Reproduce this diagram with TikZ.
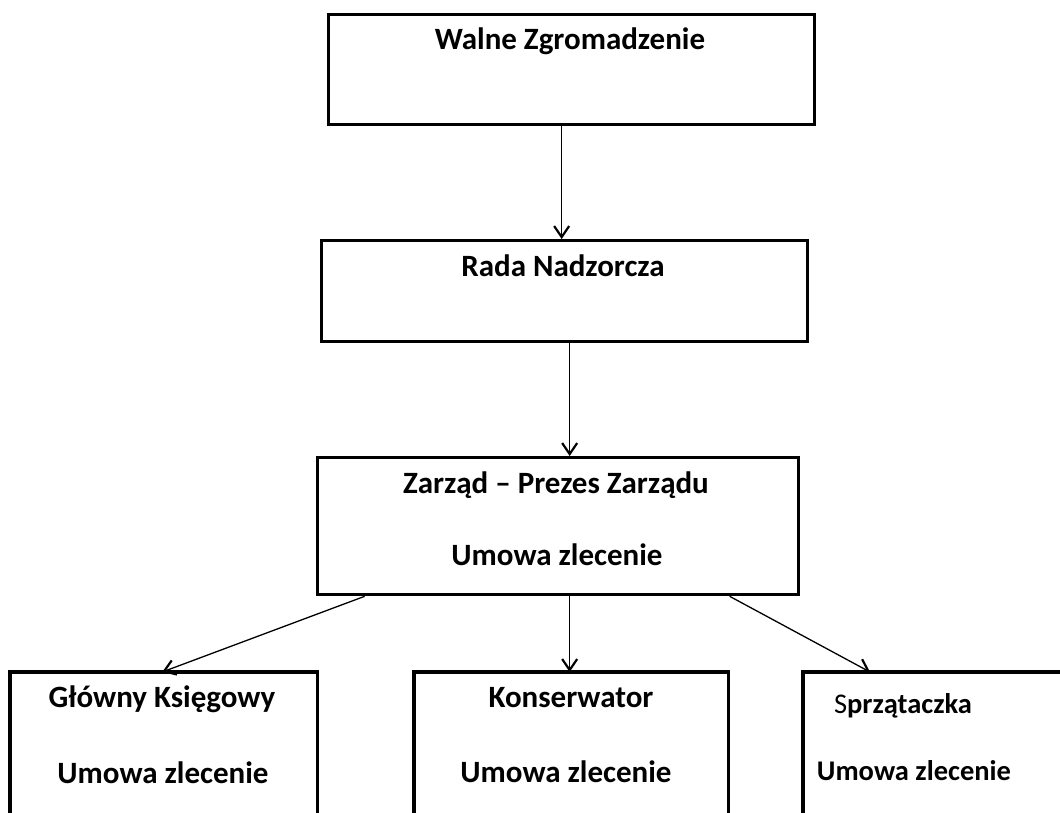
\documentclass[tikz,border=0pt]{standalone}
\usepackage{fontspec}
\setmainfont{Carlito}
\usetikzlibrary{arrows.meta,calc}
\tikzset{
  orgbox/.style={draw, line width=3.3pt, rectangle, inner sep=0pt, anchor=north west},
  openbox/.style={rectangle, inner sep=0pt, anchor=north west},
  boxline/.style={line width=3.3pt},
  lbl/.style={anchor=base, inner sep=0pt, font=\fontsize{31}{37}\selectfont\bfseries},
  lblsmall/.style={anchor=base, inner sep=0pt, font=\fontsize{28.5}{34}\selectfont\bfseries},
  conn/.style={line width=1.3pt, -{Straight Barb[length=11pt,width=15pt,line width=2.2pt]}}
}
\begin{document}
\begin{tikzpicture}[x=1pt,y=-1pt]
\useasboundingbox (0,0) rectangle (1060,812);
% boxes
\node[orgbox, minimum width=486pt, minimum height=110pt] (w) at (327,13) {};
\node[orgbox, minimum width=486pt, minimum height=101pt] (r) at (320,239) {};
\node[orgbox, minimum width=481pt, minimum height=137pt] (z) at (316,456) {};
\node[openbox, minimum width=307pt, minimum height=145pt] (g) at (10,672) {};
\node[openbox, minimum width=314pt, minimum height=145pt] (k) at (414,672) {};
\node[openbox, minimum width=262pt, minimum height=145pt] (s) at (803,672) {};
\draw[boxline] (g.south west) -- (g.north west) -- (g.north east) -- (g.south east);
\draw[boxline] (k.south west) -- (k.north west) -- (k.north east) -- (k.south east);
\draw[boxline] (s.south west) -- (s.north west) -- (s.north east);
% texts
\node[lbl] (tw) at (570,49) {Walne Zgromadzenie};
\node[lbl] (tr) at (563,276) {Rada Nadzorcza};
\node[lbl] (tz1) at (556,493) {Zarząd – Prezes Zarządu};
\node[lbl] (tz2) at (557,565) {Umowa zlecenie};
\node[lbl] (tg1) at (162,707) {Główny Księgowy};
\node[lbl] (tg2) at (163,783) {Umowa zlecenie};
\node[lbl] (tk1) at (571,707) {Konserwator};
\node[lbl] (tk2) at (566,782) {Umowa zlecenie};
\node[lblsmall] (ts1) at (903,713) {{\mdseries S}przątaczka};
\node[lblsmall] (ts2) at (914,780) {Umowa zlecenie};
% connectors
\draw[conn] ([xshift=-10pt]w.south) -- ([xshift=-10pt]w.south |- r.north);
\draw[conn] ([xshift=5pt]r.south) -- ([xshift=5pt]r.south |- z.north);
\draw[conn] ([xshift=-193.5pt]z.south) -- ([xshift=-1.5pt]g.north);
\draw[conn] ([xshift=11.5pt]z.south) -- ([xshift=11.5pt]z.south |- k.north);
\draw[conn] ([xshift=171.5pt]z.south) -- ([xshift=67pt]s.north west);
\end{tikzpicture}
\end{document}
